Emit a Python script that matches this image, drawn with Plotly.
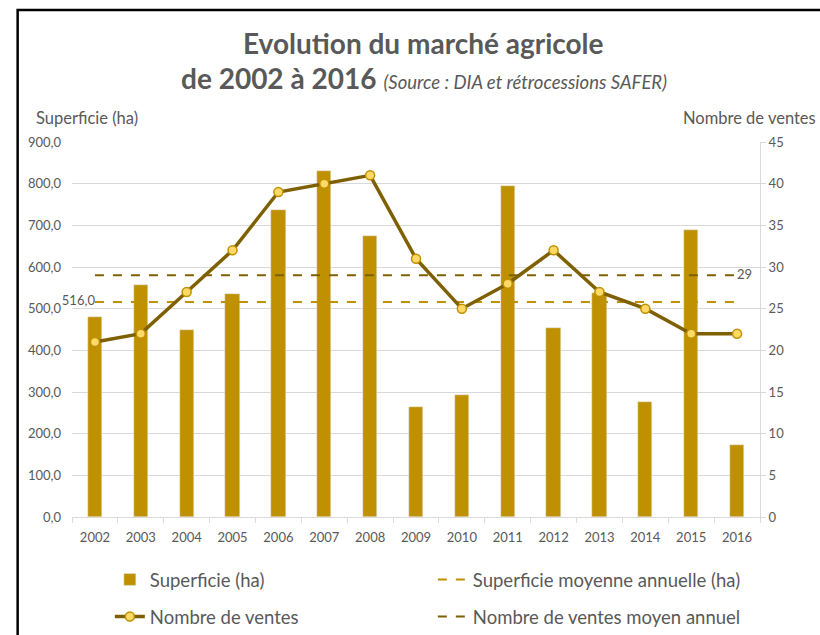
import plotly.graph_objects as go

# MARK: data
years = [str(y) for y in range(2002, 2017)]
superficie = [480, 556, 449, 535, 736, 830, 674, 264, 292, 795, 453, 538, 275, 690, 174]
ventes = [21, 22, 27, 32, 39, 40, 41, 31, 25, 28, 32, 27, 25, 22, 22]
superficie_moyenne = 516.0
ventes_moyen = 29

GOLD = "#BF9000"
DARK = "#7F6000"
LIGHT = "#FFD966"
GREY_TXT = "#595959"
GRID = "#D9D9D9"
FONT = "Lato, 'Open Sans', sans-serif"

fig = go.Figure()

# MARK: traces
fig.add_trace(
    go.Bar(
        x=years,
        y=superficie,
        name="Superficie (ha)",
        marker_color=GOLD,
        width=0.31,
        legend="legend",
    )
)
fig.add_trace(
    go.Scatter(
        x=years,
        y=[superficie_moyenne] * len(years),
        name="Superficie moyenne annuelle (ha)",
        mode="lines+text",
        line={"color": GOLD, "width": 2, "dash": "dash"},
        text=[f"{superficie_moyenne:.1f}".replace(".", ",")] + [""] * (len(years) - 1),
        textposition="middle left",
        textfont={"color": GREY_TXT, "size": 13},
        cliponaxis=False,
        legend="legend",
    )
)
fig.add_trace(
    go.Scatter(
        x=years,
        y=[ventes_moyen] * len(years),
        name="Nombre de ventes moyen annuel",
        mode="lines+text",
        line={"color": DARK, "width": 2, "dash": "dash"},
        text=[""] * (len(years) - 1) + [str(ventes_moyen)],
        textposition="middle right",
        textfont={"color": GREY_TXT, "size": 13},
        cliponaxis=False,
        yaxis="y2",
        legend="legend2",
        legendrank=2,
    )
)
fig.add_trace(
    go.Scatter(
        x=years,
        y=ventes,
        name="Nombre de ventes",
        mode="lines+markers",
        line={"color": DARK, "width": 3.5},
        marker={"size": 9, "color": LIGHT, "line": {"color": GOLD, "width": 1.5}},
        yaxis="y2",
        legend="legend2",
        legendrank=1,
    )
)

# MARK: titles
fig.add_annotation(
    text="<b>Evolution du marché agricole</b>",
    xref="paper", yref="paper", x=0.511, y=1.264, yanchor="middle",
    showarrow=False, font={"size": 28, "color": GREY_TXT},
)
fig.add_annotation(
    text="<b>de 2002 à 2016</b> <i><span style='font-size:18.5px'>(Source : DIA et rétrocessions SAFER)</span></i>",
    xref="paper", yref="paper", x=0.511, y=1.171, yanchor="middle",
    showarrow=False, font={"size": 28, "color": GREY_TXT},
)
fig.add_annotation(
    text="Superficie (ha)", xref="paper", yref="paper", x=-0.055, y=1.064,
    xanchor="left", yanchor="middle", showarrow=False,
    font={"size": 16.5, "color": GREY_TXT},
)
fig.add_annotation(
    text="Nombre de ventes", xref="paper", yref="paper", x=1.084, y=1.064,
    xanchor="right", yanchor="middle", showarrow=False,
    font={"size": 16.5, "color": GREY_TXT},
)

# MARK: frame
fig.add_shape(
    type="path", xref="paper", yref="paper",
    path="M -0.079 -1 L -0.079 1.352 L 2 1.352",
    line={"color": "black", "width": 2.5},
)

# MARK: layout
fig.update_layout(
    width=820,
    height=635,
    margin={"l": 72, "r": 60, "t": 142, "b": 118, "autoexpand": False},
    paper_bgcolor="white",
    plot_bgcolor="white",
    separators=", ",
    font={"family": FONT, "color": GREY_TXT, "size": 13},
    bargap=0,
    xaxis={
        "type": "category",
        "range": [-0.5, len(years) - 0.5],
        "showgrid": False,
        "showline": True,
        "linecolor": GRID,
        "ticks": "outside",
        "tickson": "boundaries",
        "tickcolor": GRID,
        "ticklen": 5,
        "ticklabelstandoff": 8,
        "tickfont": {"size": 13, "color": GREY_TXT},
        "automargin": False,
    },
    yaxis={
        "range": [0, 900],
        "dtick": 100,
        "tickformat": ".1f",
        "gridcolor": GRID,
        "zeroline": False,
        "showline": False,
        "ticks": "",
        "ticklabelstandoff": 10,
        "tickfont": {"size": 13, "color": GREY_TXT},
        "automargin": False,
    },
    yaxis2={
        "range": [0, 45],
        "dtick": 5,
        "overlaying": "y",
        "side": "right",
        "showgrid": False,
        "zeroline": False,
        "showline": True,
        "linecolor": GRID,
        "ticks": "outside",
        "tickcolor": GRID,
        "ticklen": 5,
        "tickfont": {"size": 13, "color": GREY_TXT},
        "automargin": False,
    },
    legend={
        "orientation": "h",
        "x": 0.055, "y": -0.117, "xanchor": "left", "yanchor": "top",
        "entrywidth": 278, "entrywidthmode": "pixels",
        "font": {"size": 18.5, "color": GREY_TXT},
        "bgcolor": "rgba(0,0,0,0)",
    },
    legend2={
        "orientation": "h",
        "x": 0.055, "y": -0.216, "xanchor": "left", "yanchor": "top",
        "entrywidth": 278, "entrywidthmode": "pixels",
        "font": {"size": 18.5, "color": GREY_TXT},
        "bgcolor": "rgba(0,0,0,0)",
        "traceorder": "normal",
    },
)

fig.write_html(
    "out.html",
    config={"displayModeBar": False},
    post_script="document.body.style.margin = '0';",
)
